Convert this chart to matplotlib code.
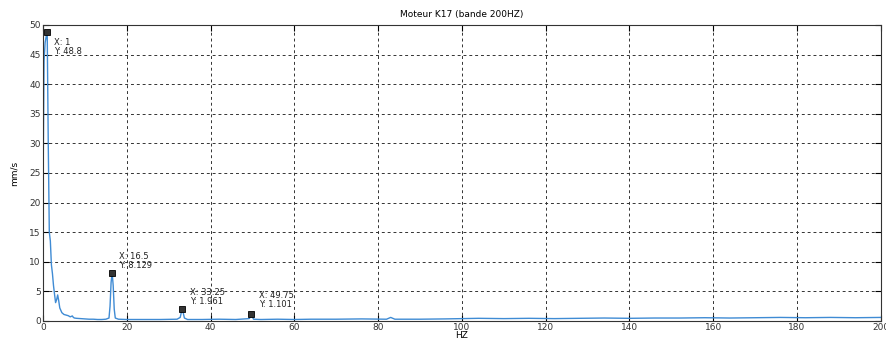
import numpy as np
import matplotlib.pyplot as plt

# spectrum points (frequency in Hz, amplitude in mm/s)
freq = [0, 0.25, 0.5, 0.75, 1.0, 1.25, 1.5, 1.75, 2.0, 2.25, 2.5, 2.75, 3.0,
        3.25, 3.5, 3.75, 4.0, 4.5, 5.0, 5.5, 6.0, 6.5, 7.0, 7.25, 7.5, 8.0,
        9.0, 10.0, 11.0, 12.0, 13.0, 14.0, 15.0, 15.75, 16.0, 16.25, 16.5,
        16.75, 17.0, 17.25, 18.0, 20.0, 24.0, 28.0, 32.0, 32.75, 33.0, 33.25,
        33.5, 33.75, 34.5, 38.0, 42.0, 46.0, 49.25, 49.5, 49.75, 50.0, 50.25,
        52.0, 56.0, 60.0, 64.0, 70.0, 76.0, 82.0, 83.0, 84.0, 90.0, 96.0,
        100.0, 104.0, 110.0, 116.0, 122.0, 128.0, 134.0, 140.0, 146.0, 152.0,
        158.0, 164.0, 170.0, 176.0, 182.0, 188.0, 194.0, 200.0]
amp = [22.0, 44.0, 47.0, 48.0, 48.8, 30.0, 15.0, 13.5, 9.5, 8.0, 6.0, 4.5, 3.1,
       3.6, 4.4, 3.4, 2.2, 1.4, 1.1, 1.0, 0.9, 0.7, 0.85, 0.6, 0.5, 0.45,
       0.4, 0.35, 0.3, 0.3, 0.25, 0.25, 0.3, 0.5, 2.5, 6.5, 8.129,
       6.0, 2.0, 0.5, 0.3, 0.25, 0.25, 0.25, 0.3, 0.6, 1.4, 1.961,
       1.3, 0.5, 0.25, 0.25, 0.3, 0.25, 0.4, 0.8, 1.101, 0.7, 0.3,
       0.25, 0.3, 0.25, 0.3, 0.3, 0.35, 0.3, 0.6, 0.3, 0.3, 0.35,
       0.4, 0.45, 0.4, 0.45, 0.4, 0.45, 0.5, 0.45, 0.5, 0.5,
       0.55, 0.5, 0.55, 0.6, 0.55, 0.6, 0.55, 0.6]

# data tips: marker point and where its text box sits
tip_x = [1, 16.5, 33.25, 49.75]
tip_y = [48.8, 8.129, 1.961, 1.101]
tip_text_xy = [(2.6, 47.8), (18.2, 11.6), (35.0, 5.6), (51.5, 5.1)]

fig = plt.figure(figsize=(8.87, 3.41), dpi=100)
ax = fig.add_axes([0.0485, 0.0587, 0.9445, 0.8683])

ax.plot(freq, amp, color='#3f8bd4', lw=1.0)
ax.plot(tip_x, tip_y, 's', ms=4.5, mfc='#333333', mec='black', mew=0.6)

for x, y, (tx, ty) in zip(tip_x, tip_y, tip_text_xy):
    ax.text(tx, ty, 'X: %g\nY: %g' % (x, y), fontsize=6, va='top', ha='left',
            linespacing=1.0, color='#222222')

ax.set_xlim(0, 200)
ax.set_ylim(0, 50)
ax.set_xticks(np.arange(0, 201, 20))
ax.set_yticks(np.arange(0, 51, 5))
ax.tick_params(direction='in', top=True, right=True, labelsize=6.5, length=4,
               width=0.8, pad=1.5, labelcolor='#333333')
ax.grid(True, color='#333333', linestyle=(0, (3, 3)), lw=0.7)
for s in ax.spines.values():
    s.set_linewidth(0.8)
    s.set_color('#333333')

ax.set_title('Moteur K17 (bande 200HZ)', fontsize=6.5, pad=6)
ax.set_xlabel('HZ', fontsize=6.5, labelpad=-1)
ax.set_ylabel('mm/s', fontsize=6.5, labelpad=8)

fig.savefig('out.png', dpi=100)
